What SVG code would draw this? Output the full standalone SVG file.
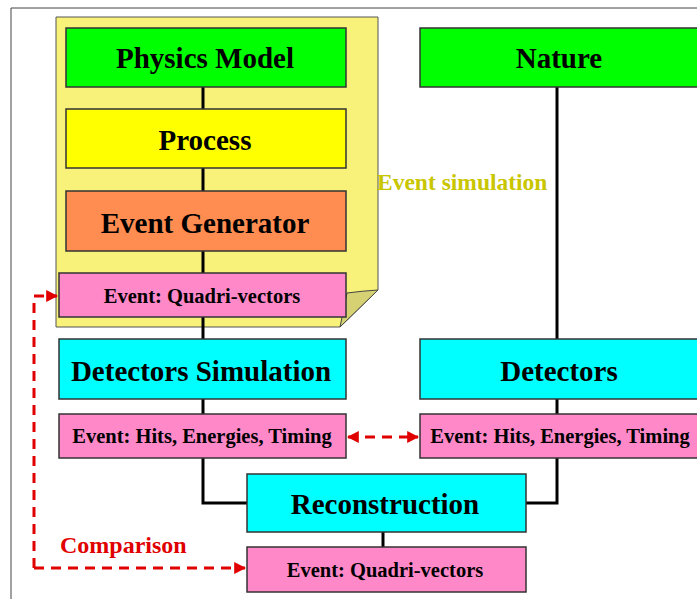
<svg xmlns="http://www.w3.org/2000/svg" width="697" height="599" viewBox="0 0 697 599">
<style>
.box{stroke:#333;stroke-width:1.5}
.t{font-family:"Liberation Serif","Times New Roman",serif;font-weight:bold;text-anchor:middle;fill:#000}
.big{font-size:29px}
.small{font-size:20.5px}
.lbl{font-family:"Liberation Serif","Times New Roman",serif;font-weight:bold}
.conn{stroke:#000;stroke-width:3;fill:none}
.red{stroke:#e00000;stroke-width:3;fill:none;stroke-dasharray:10 7}
</style>
<defs>
<marker id="ah" viewBox="0 0 10 10" refX="9" refY="5" markerWidth="4" markerHeight="4" orient="auto-start-reverse" markerUnits="strokeWidth">
<path d="M0,0 L10,5 L0,10 Z" fill="#e00000"/>
</marker>
</defs>
<rect width="697" height="599" fill="#fff"/>
<path d="M11,599 V8 H697" fill="none" stroke="#444" stroke-width="1"/>
<g id="note">
<path d="M56,17 H378 V290 L340,327 H56 Z" fill="#f8f27a" stroke="#555" stroke-width="1"/>
<path d="M347,293 Q362,291 378,290 L340,327 Z" fill="#d6d274" stroke="#444" stroke-width="1"/>
</g>
<text class="lbl" x="377" y="190" style="font-size:23.5px;fill:#c9c600">Event simulation</text>
<g id="connectors">
<path class="conn" d="M203,87 V109 M203,168 V191 M203,251 V273 M203,317 V339 M203,399 V414 M203,458 V503 H247 M557,87 V339 M557,399 V414 M557,458 V503 H526 M383,532 V547"/>
<path class="red" d="M34,568 V296 H57" marker-end="url(#ah)"/>
<path class="red" d="M34,568 H245" marker-end="url(#ah)"/>
<path class="red" d="M348,437 H418" marker-start="url(#ah)" marker-end="url(#ah)"/>
</g>
<g id="physics-model"><rect class="box" x="66" y="28" width="280" height="59" fill="#00ff00"/><text class="t big" x="205" y="68">Physics Model</text></g>
<g id="process"><rect class="box" x="66" y="109" width="280" height="59" fill="#ffff00"/><text class="t big" x="205" y="150">Process</text></g>
<g id="event-generator"><rect class="box" x="66" y="191" width="280" height="60" fill="#ff8c50"/><text class="t big" x="205" y="233">Event Generator</text></g>
<g id="event-quadri-top"><rect class="box" x="59" y="273" width="287" height="44" fill="#ff88c8"/><text class="t small" x="202" y="303">Event: Quadri-vectors</text></g>
<g id="nature"><rect class="box" x="420" y="28" width="280" height="59" fill="#00ff00"/><text class="t big" x="559" y="68">Nature</text></g>
<g id="detectors-simulation"><rect class="box" x="59" y="339" width="287" height="60" fill="#00ffff"/><text class="t big" x="201" y="381">Detectors Simulation</text></g>
<g id="detectors"><rect class="box" x="420" y="339" width="280" height="60" fill="#00ffff"/><text class="t big" x="559" y="381">Detectors</text></g>
<g id="event-hits-left"><rect class="box" x="59" y="414" width="287" height="44" fill="#ff88c8"/><text class="t small" x="202" y="443">Event: Hits, Energies, Timing</text></g>
<g id="event-hits-right"><rect class="box" x="420" y="414" width="280" height="44" fill="#ff88c8"/><text class="t small" x="560" y="443">Event: Hits, Energies, Timing</text></g>
<g id="reconstruction"><rect class="box" x="247" y="474" width="279" height="58" fill="#00ffff"/><text class="t big" x="385" y="514">Reconstruction</text></g>
<g id="event-quadri-bottom"><rect class="box" x="247" y="547" width="279" height="45" fill="#ff88c8"/><text class="t small" x="385" y="577">Event: Quadri-vectors</text></g>
<text class="lbl" x="60" y="553" style="font-size:24px;fill:#e00000">Comparison</text>
</svg>
